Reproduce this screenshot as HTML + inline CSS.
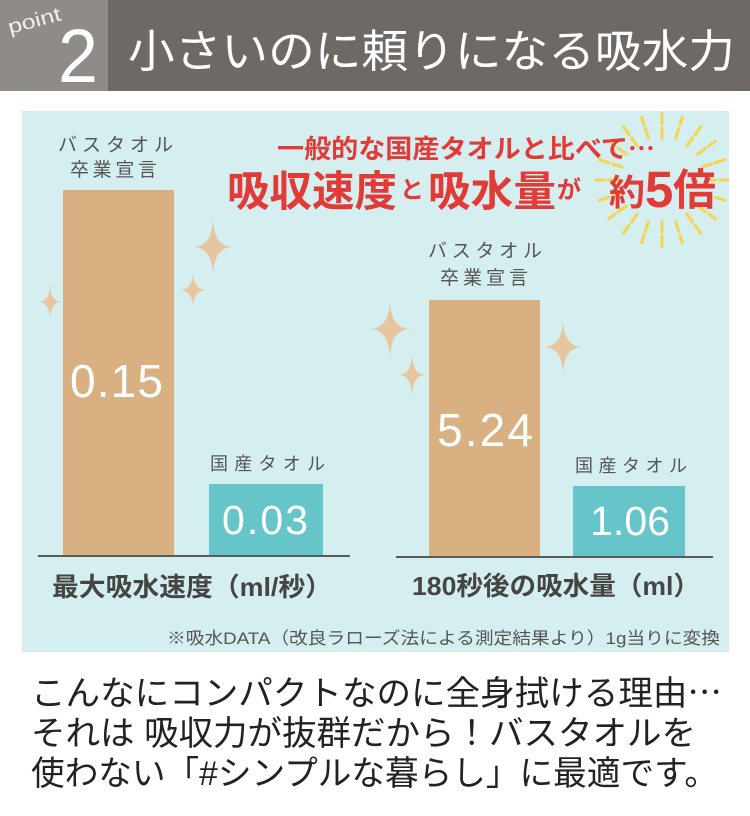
<!DOCTYPE html>
<html><head><meta charset="utf-8">
<style>
html,body{margin:0;padding:0;background:#fff;}
svg{display:block;}
text{font-family:"Liberation Sans","Noto Sans CJK JP",sans-serif;}
.cjk{font-family:"Noto Sans CJK JP",sans-serif;}
</style></head>
<body>
<svg width="750" height="816" viewBox="0 0 750 816" xmlns="http://www.w3.org/2000/svg">
<rect x="0" y="0" width="750" height="816" fill="#ffffff"/>
<!-- header -->
<rect x="0" y="0" width="750" height="91" fill="#6e6965"/>
<rect x="0" y="0" width="108" height="91" fill="#8e8b88"/>
<g transform="translate(10,34) rotate(-15)">
<text x="0" y="0" font-family="'Liberation Serif',serif" font-size="20" fill="#f2f0ec" textLength="54" lengthAdjust="spacingAndGlyphs">point</text>
</g>
<text x="58" y="82" font-size="76" fill="#ffffff" textLength="40" lengthAdjust="spacingAndGlyphs">2</text>
<text x="128" y="67" font-size="45" fill="#ffffff" textLength="607" lengthAdjust="spacingAndGlyphs">小さいのに頼りになる吸水力</text>

<!-- panel -->
<rect x="22" y="111" width="707" height="541" fill="#d5eeef"/>

<!-- sunburst -->
<g transform="translate(662,180)" stroke="#f3d54e" stroke-width="3" stroke-linecap="round">
<line x1="0" y1="-42" x2="0" y2="-52" transform="rotate(0)"/><line x1="0" y1="-56" x2="0" y2="-66" transform="rotate(0)"/>
<line x1="0" y1="-44" x2="0" y2="-54" transform="rotate(18)"/><line x1="0" y1="-58" x2="0" y2="-66" transform="rotate(18)"/>
<line x1="0" y1="-42" x2="0" y2="-52" transform="rotate(36)"/><line x1="0" y1="-56" x2="0" y2="-66" transform="rotate(36)"/>
<line x1="0" y1="-44" x2="0" y2="-54" transform="rotate(54)"/><line x1="0" y1="-58" x2="0" y2="-66" transform="rotate(54)"/>
<line x1="0" y1="-42" x2="0" y2="-52" transform="rotate(72)"/><line x1="0" y1="-56" x2="0" y2="-66" transform="rotate(72)"/>
<line x1="0" y1="-44" x2="0" y2="-54" transform="rotate(90)"/><line x1="0" y1="-58" x2="0" y2="-66" transform="rotate(90)"/>
<line x1="0" y1="-42" x2="0" y2="-52" transform="rotate(108)"/><line x1="0" y1="-56" x2="0" y2="-66" transform="rotate(108)"/>
<line x1="0" y1="-44" x2="0" y2="-54" transform="rotate(126)"/><line x1="0" y1="-58" x2="0" y2="-66" transform="rotate(126)"/>
<line x1="0" y1="-42" x2="0" y2="-52" transform="rotate(144)"/><line x1="0" y1="-56" x2="0" y2="-66" transform="rotate(144)"/>
<line x1="0" y1="-44" x2="0" y2="-54" transform="rotate(162)"/><line x1="0" y1="-58" x2="0" y2="-66" transform="rotate(162)"/>
<line x1="0" y1="-42" x2="0" y2="-52" transform="rotate(180)"/><line x1="0" y1="-56" x2="0" y2="-66" transform="rotate(180)"/>
<line x1="0" y1="-44" x2="0" y2="-54" transform="rotate(198)"/><line x1="0" y1="-58" x2="0" y2="-66" transform="rotate(198)"/>
<line x1="0" y1="-42" x2="0" y2="-52" transform="rotate(216)"/><line x1="0" y1="-56" x2="0" y2="-66" transform="rotate(216)"/>
<line x1="0" y1="-44" x2="0" y2="-54" transform="rotate(234)"/><line x1="0" y1="-58" x2="0" y2="-66" transform="rotate(234)"/>
<line x1="0" y1="-42" x2="0" y2="-52" transform="rotate(252)"/><line x1="0" y1="-56" x2="0" y2="-66" transform="rotate(252)"/>
<line x1="0" y1="-44" x2="0" y2="-54" transform="rotate(270)"/><line x1="0" y1="-58" x2="0" y2="-66" transform="rotate(270)"/>
<line x1="0" y1="-42" x2="0" y2="-52" transform="rotate(288)"/><line x1="0" y1="-56" x2="0" y2="-66" transform="rotate(288)"/>
<line x1="0" y1="-44" x2="0" y2="-54" transform="rotate(306)"/><line x1="0" y1="-58" x2="0" y2="-66" transform="rotate(306)"/>
<line x1="0" y1="-42" x2="0" y2="-52" transform="rotate(324)"/><line x1="0" y1="-56" x2="0" y2="-66" transform="rotate(324)"/>
<line x1="0" y1="-44" x2="0" y2="-54" transform="rotate(342)"/><line x1="0" y1="-58" x2="0" y2="-66" transform="rotate(342)"/>
</g>

<!-- red headline -->
<text x="277" y="158" font-size="26" font-weight="bold" fill="#e23a36" textLength="378" lengthAdjust="spacingAndGlyphs">一般的な国産タオルと比べて<tspan class="cjk">…</tspan></text>
<text x="227" y="206" font-size="42" font-weight="bold" fill="#e23a36" textLength="170" lengthAdjust="spacingAndGlyphs">吸収速度</text>
<text x="400" y="198" font-size="24" font-weight="bold" fill="#e23a36">と</text>
<text x="428" y="206" font-size="42" font-weight="bold" fill="#e23a36" textLength="128" lengthAdjust="spacingAndGlyphs">吸水量</text>
<text x="557" y="198" font-size="24" font-weight="bold" fill="#e23a36">が</text>
<text x="609" y="205" font-size="36" font-weight="bold" fill="#e23a36">約</text>
<text x="645" y="207" font-size="51" font-weight="bold" fill="#e23a36">5</text>
<text x="673" y="205" font-size="43" font-weight="bold" fill="#e23a36">倍</text>

<!-- sparkles -->
<g fill="#e6c59f">
<path d="M213,216 Q213,247 233,247 Q213,247 213,278 Q213,247 193,247 Q213,247 213,216 Z"/>
<path d="M193,272 Q193,290 207,290 Q193,290 193,308 Q193,290 179,290 Q193,290 193,272 Z"/>
<path d="M50,284 Q50,302 62,302 Q50,302 50,320 Q50,302 38,302 Q50,302 50,284 Z"/>
<path d="M390,298 Q390,329 411,329 Q390,329 390,360 Q390,329 369,329 Q390,329 390,298 Z"/>
<path d="M412,353 Q412,375 426,375 Q412,375 412,397 Q412,375 398,375 Q412,375 412,353 Z"/>
<path d="M563,318 Q563,347 583,347 Q563,347 563,376 Q563,347 543,347 Q563,347 563,318 Z"/>
</g>

<!-- left chart -->
<text x="58" y="151" font-size="19" fill="#555555" textLength="115" lengthAdjust="spacing">バスタオル</text>
<text x="70" y="176" font-size="19" fill="#555555" textLength="87" lengthAdjust="spacing">卒業宣言</text>
<rect x="63" y="190" width="111" height="366" fill="#d9b082"/>
<text x="70" y="397" font-size="46" fill="#ffffff" textLength="93" lengthAdjust="spacing">0.15</text>
<text x="210" y="470" font-size="18" fill="#555555" textLength="115" lengthAdjust="spacing">国産タオル</text>
<rect x="209" y="484" width="114" height="72" fill="#66c5c9"/>
<text x="222" y="534" font-size="41" fill="#ffffff" textLength="86" lengthAdjust="spacing">0.03</text>
<rect x="38" y="555" width="312" height="2" fill="#5a5a5a"/>
<text x="52" y="596" font-size="26" font-weight="bold" fill="#454545" textLength="280" lengthAdjust="spacingAndGlyphs">最大吸水速度（ml/秒）</text>

<!-- right chart -->
<text x="428" y="257" font-size="19" fill="#555555" textLength="114" lengthAdjust="spacing">バスタオル</text>
<text x="440" y="284" font-size="19" fill="#555555" textLength="88" lengthAdjust="spacing">卒業宣言</text>
<rect x="429" y="300" width="111" height="257" fill="#d9b082"/>
<text x="437" y="446" font-size="46" fill="#ffffff" textLength="96" lengthAdjust="spacing">5.24</text>
<text x="575" y="472" font-size="18" fill="#555555" textLength="112" lengthAdjust="spacing">国産タオル</text>
<rect x="573" y="486" width="112" height="71" fill="#66c5c9"/>
<text x="590" y="535" font-size="41" fill="#ffffff" textLength="80" lengthAdjust="spacing">1.06</text>
<rect x="396" y="556" width="317" height="2" fill="#5a5a5a"/>
<text x="412" y="595" font-size="26" font-weight="bold" fill="#454545" textLength="288" lengthAdjust="spacingAndGlyphs">180秒後の吸水量（ml）</text>

<!-- footnote -->
<text x="167" y="644" font-size="17" fill="#555555" textLength="553" lengthAdjust="spacingAndGlyphs">※吸水DATA（改良ラローズ法による測定結果より）1g当りに変換</text>

<!-- bottom text -->
<text x="31" y="705" font-size="34" fill="#222222" textLength="691" lengthAdjust="spacingAndGlyphs">こんなにコンパクトなのに全身拭ける理由<tspan class="cjk">…</tspan></text>
<text x="31" y="745" font-size="34" fill="#222222" textLength="665" lengthAdjust="spacingAndGlyphs">それは 吸収力が抜群だから！バスタオルを</text>
<text x="31" y="785" font-size="34" fill="#222222" textLength="687" lengthAdjust="spacingAndGlyphs">使わない「#シンプルな暮らし」に最適です。</text>
</svg>
</body></html>
